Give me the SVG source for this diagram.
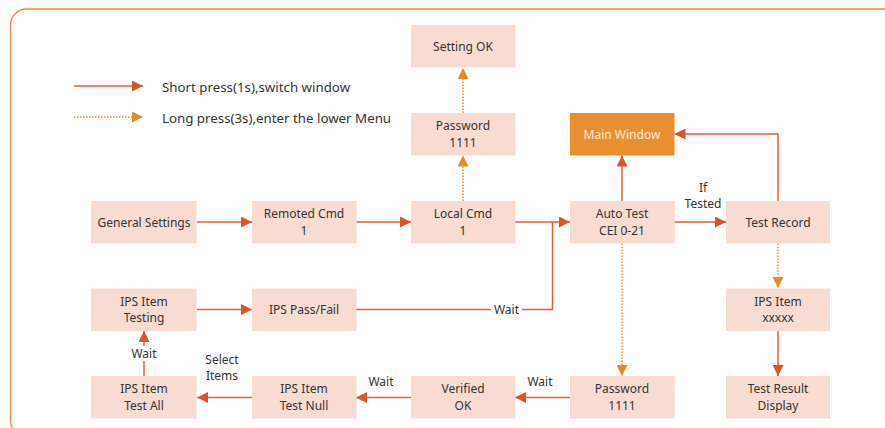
<svg xmlns="http://www.w3.org/2000/svg" width="885" height="428" viewBox="0 0 885 428">
<defs>
<style>
.box{fill:#F9DCD1;}
.main{fill:#E88F32;}
.t{font-family:"Noto Sans","Open Sans",sans-serif;font-size:12px;fill:#333333;text-anchor:middle;}
.tw{font-family:"Noto Sans","Open Sans",sans-serif;font-size:12px;fill:#FDEBDD;text-anchor:middle;}
.lg{font-family:"Noto Sans","Open Sans",sans-serif;font-size:13.3px;fill:#333333;}
.s{fill:none;stroke:#E0603A;stroke-width:1.5;}
.d{fill:none;stroke:#E8913A;stroke-width:1.5;stroke-dasharray:1.5 1.5;}
.lbl{fill:#ffffff;}
</style>
<marker id="as" markerUnits="userSpaceOnUse" markerWidth="11" markerHeight="11" refX="11" refY="5.5" orient="auto" viewBox="0 0 11 11">
<path d="M0,0 L11,5.5 L0,11 z" fill="#DA5428"/>
</marker>
<marker id="ad" markerUnits="userSpaceOnUse" markerWidth="11" markerHeight="11" refX="11" refY="5.5" orient="auto" viewBox="0 0 11 11">
<path d="M0,0 L11,5.5 L0,11 z" fill="#E38A2E"/>
</marker>
</defs>
<rect x="0" y="0" width="885" height="428" fill="#ffffff"/>
<rect x="10.5" y="9" width="890" height="428" rx="16" fill="none" stroke="#F08840" stroke-width="1.3"/>

<g id="legend">
<line class="s" x1="74" y1="86" x2="143" y2="86" marker-end="url(#as)"/>
<text class="lg" x="162" y="91.5">Short press(1s),switch window</text>
<line class="d" x1="74" y1="117" x2="143" y2="117" marker-end="url(#ad)"/>
<text class="lg" x="162" y="122.5">Long press(3s),enter the lower Menu</text>
</g>

<g id="connectors">
<line class="s" x1="197" y1="222" x2="252" y2="222" marker-end="url(#as)"/>
<line class="s" x1="356" y1="222" x2="411" y2="222" marker-end="url(#as)"/>
<line class="s" x1="515" y1="222" x2="570" y2="222" marker-end="url(#as)"/>
<polyline class="s" points="356,309.5 552.5,309.5 552.5,222"/>
<line class="s" x1="674" y1="222" x2="726" y2="222" marker-end="url(#as)"/>
<line class="s" x1="622" y1="201" x2="622" y2="155.5" marker-end="url(#as)"/>
<polyline class="s" points="778,201 778,134 674.5,134" marker-end="url(#as)"/>
<line class="d" x1="463" y1="201" x2="463" y2="155.5" marker-end="url(#ad)"/>
<line class="d" x1="463" y1="113" x2="463" y2="68" marker-end="url(#ad)"/>
<line class="d" x1="622" y1="243.5" x2="622" y2="376" marker-end="url(#ad)"/>
<line class="d" x1="778" y1="243.5" x2="778" y2="288" marker-end="url(#ad)"/>
<line class="s" x1="778" y1="331" x2="778" y2="376" marker-end="url(#as)"/>
<line class="s" x1="570" y1="397.5" x2="515" y2="397.5" marker-end="url(#as)"/>
<line class="s" x1="411" y1="397.5" x2="356" y2="397.5" marker-end="url(#as)"/>
<line class="s" x1="252" y1="397.5" x2="197" y2="397.5" marker-end="url(#as)"/>
<line class="s" x1="144" y1="376" x2="144" y2="331" marker-end="url(#as)"/>
<line class="s" x1="197" y1="309.5" x2="252" y2="309.5" marker-end="url(#as)"/>
<rect class="lbl" x="491" y="302" width="31" height="15"/>
<text class="t" x="506.5" y="314">Wait</text>
<rect class="lbl" x="129" y="346" width="30" height="15"/>
<text class="t" x="144" y="358">Wait</text>
<text class="t" x="703" y="191.8">If</text>
<text class="t" x="703" y="208.2">Tested</text>
<text class="t" x="540" y="386">Wait</text>
<text class="t" x="381" y="386">Wait</text>
<text class="t" x="222" y="364">Select</text>
<text class="t" x="222" y="380.4">Items</text>
</g>

<g id="setting-ok"><rect class="box" x="411" y="25" width="104.5" height="42.5"/><text class="t" x="463" y="50.5">Setting OK</text></g>
<g id="password-top"><rect class="box" x="411" y="113" width="104.5" height="42.5"/><text class="t" x="463" y="130.2">Password</text><text class="t" x="463" y="146.6">1111</text></g>
<g id="main-window"><rect class="main" x="570" y="113" width="104.5" height="42.5"/><text class="tw" x="622" y="138.5">Main Window</text></g>
<g id="general-settings"><rect class="box" x="91" y="201" width="105.5" height="42.5"/><text class="t" x="144" y="226.5">General Settings</text></g>
<g id="remoted-cmd"><rect class="box" x="252" y="201" width="104.5" height="42.5"/><text class="t" x="304" y="218.2">Remoted Cmd</text><text class="t" x="304" y="234.6">1</text></g>
<g id="local-cmd"><rect class="box" x="411" y="201" width="104.5" height="42.5"/><text class="t" x="463" y="218.2">Local Cmd</text><text class="t" x="463" y="234.6">1</text></g>
<g id="auto-test"><rect class="box" x="570" y="201" width="104.5" height="42.5"/><text class="t" x="622" y="218.2">Auto Test</text><text class="t" x="622" y="234.6">CEI 0-21</text></g>
<g id="test-record"><rect class="box" x="726" y="201" width="104" height="42.5"/><text class="t" x="778" y="226.5">Test Record</text></g>
<g id="ips-testing"><rect class="box" x="91" y="288.5" width="105.5" height="42.5"/><text class="t" x="144" y="305.7">IPS Item</text><text class="t" x="144" y="322.1">Testing</text></g>
<g id="ips-passfail"><rect class="box" x="252" y="288.5" width="104.5" height="42.5"/><text class="t" x="304" y="314">IPS Pass/Fail</text></g>
<g id="ips-xxxxx"><rect class="box" x="726" y="288.5" width="104" height="42.5"/><text class="t" x="778" y="305.7">IPS Item</text><text class="t" x="778" y="322.1">xxxxx</text></g>
<g id="ips-test-all"><rect class="box" x="91" y="376" width="105.5" height="42.5"/><text class="t" x="144" y="393.2">IPS Item</text><text class="t" x="144" y="409.6">Test All</text></g>
<g id="ips-test-null"><rect class="box" x="252" y="376" width="104.5" height="42.5"/><text class="t" x="304" y="393.2">IPS Item</text><text class="t" x="304" y="409.6">Test Null</text></g>
<g id="verified-ok"><rect class="box" x="411" y="376" width="104.5" height="42.5"/><text class="t" x="463" y="393.2">Verified</text><text class="t" x="463" y="409.6">OK</text></g>
<g id="password-bottom"><rect class="box" x="570" y="376" width="104.5" height="42.5"/><text class="t" x="622" y="393.2">Password</text><text class="t" x="622" y="409.6">1111</text></g>
<g id="test-result"><rect class="box" x="726" y="376" width="104" height="42.5"/><text class="t" x="778" y="393.2">Test Result</text><text class="t" x="778" y="409.6">Display</text></g>
</svg>
